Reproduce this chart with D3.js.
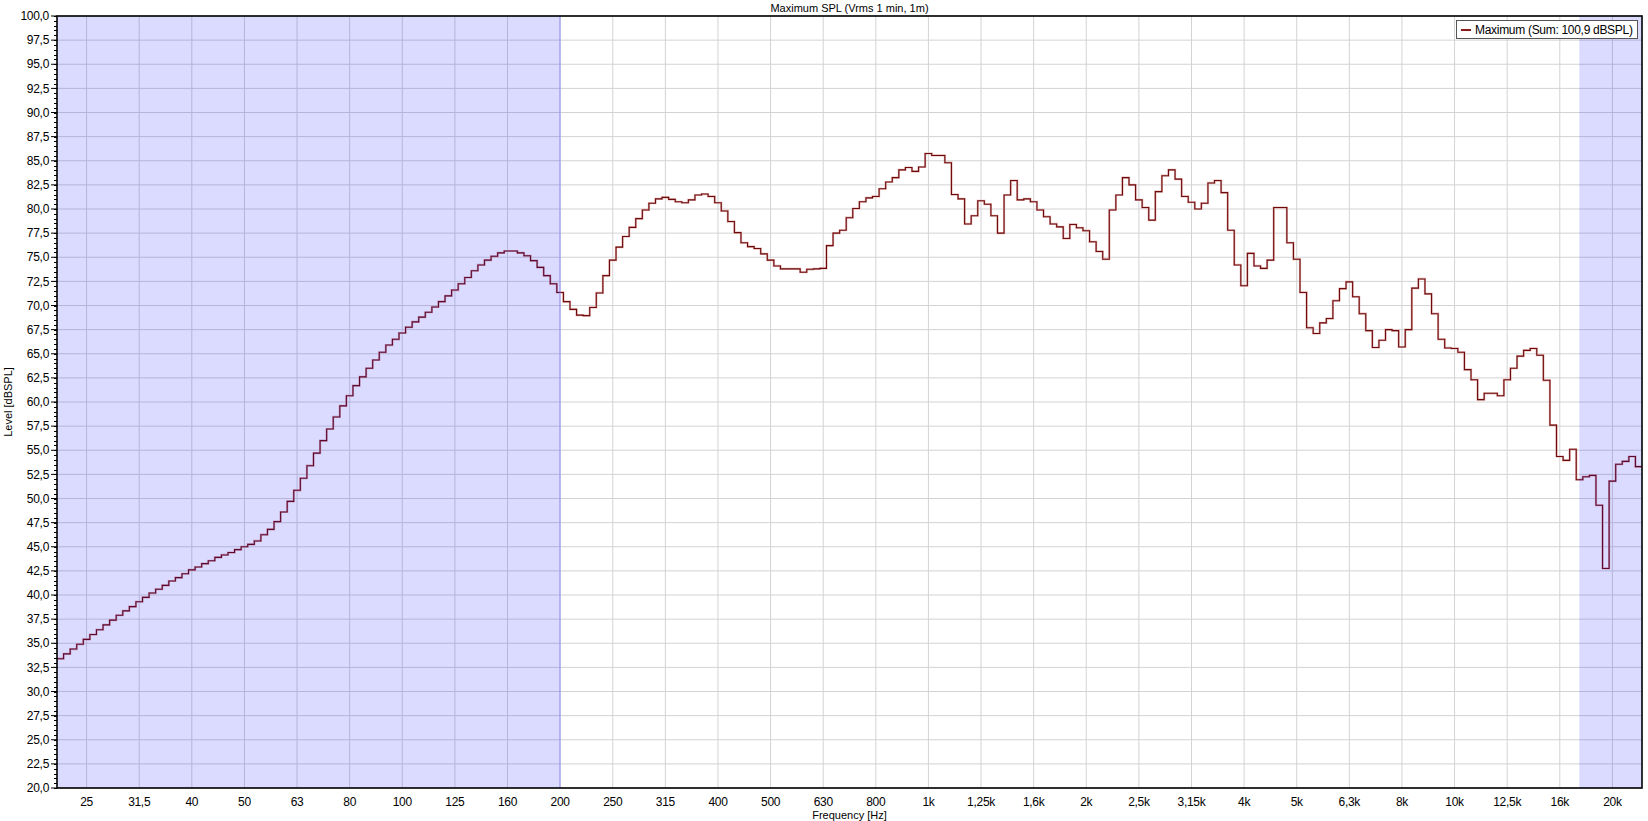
<!DOCTYPE html>
<html><head><meta charset="utf-8">
<script src="https://cdn.jsdelivr.net/npm/d3@7"></script>
<style>
body{margin:0;background:#fff;}
svg{display:block;font-family:"Liberation Sans",Arial,sans-serif;}
</style>
</head><body>
<svg id="chart" width="1648" height="821"></svg>
<script>
// 1/24-octave band levels (dBSPL), first band centred at 22.1 Hz, band 132 = 1 kHz
const levels = [
33.4,33.9,34.4,34.9,35.4,35.9,36.4,36.9,37.4,37.9,
38.35,38.8,39.3,39.75,40.2,40.6,41.0,41.45,41.8,42.2,
42.6,42.9,43.25,43.55,43.9,44.15,44.4,44.7,45.0,45.25,
45.6,46.25,46.8,47.6,48.6,49.7,50.85,52.1,53.4,54.7,
56.0,57.2,58.45,59.6,60.65,61.7,62.6,63.5,64.35,65.15,
65.9,66.5,67.15,67.75,68.3,68.8,69.3,69.85,70.4,71.0,
71.6,72.25,72.9,73.6,74.2,74.7,75.1,75.45,75.65,75.65,
75.45,75.15,74.65,73.95,73.1,72.25,71.35,70.4,69.6,69.0,
68.95,69.8,71.3,73.1,74.7,76.05,77.15,78.1,79.0,79.9,
80.6,81.05,81.2,81.0,80.75,80.65,80.95,81.45,81.55,81.3,
80.65,79.8,78.7,77.55,76.5,76.1,75.9,75.35,74.7,74.1,
73.8,73.8,73.8,73.45,73.75,73.8,73.85,76.2,77.5,77.8,
79.1,80.05,80.75,81.15,81.3,82.1,82.8,83.25,84.05,84.3,
83.9,84.35,85.75,85.55,85.55,84.8,81.5,81.05,78.45,79.3,
80.85,80.5,79.3,77.5,81.45,82.95,80.95,81.05,80.75,79.9,
79.2,78.45,78.15,76.95,78.4,78.05,77.75,76.6,75.6,74.8,
79.9,81.45,83.25,82.5,80.95,80.15,78.85,81.8,83.45,84.05,
83.1,81.3,80.7,80.0,80.6,82.7,82.95,81.7,77.8,74.2,
72.05,75.4,74.1,73.85,74.7,80.15,80.15,76.5,74.8,71.35,
67.7,67.1,68.2,68.65,70.5,71.75,72.45,70.9,69.15,67.4,
65.65,66.4,67.5,67.4,65.7,67.5,71.8,72.75,71.2,69.15,
66.5,65.6,65.55,65.15,63.35,62.3,60.25,60.9,60.9,60.65,
62.3,63.5,64.75,65.35,65.55,64.85,62.25,57.6,54.35,53.95,
55.1,51.95,52.25,52.4,49.3,42.75,51.8,53.55,53.85,54.35,
53.3
];
const bandsPerOctave = 24;
const refBandIndex = 132;   // 1 kHz band
const refFreq = 1000;

const xTickFreqs = [24.8,31.25,39.37,49.61,62.5,78.75,99.21,125,157.5,198.4,250,315,396.9,500,630,793.7,1000,1259.9,1587.4,2000,2519.8,3174.8,4000,5039.7,6349.6,8000,10079,12699,16000,20159];
const xTickLabels = ["25","31,5","40","50","63","80","100","125","160","200","250","315","400","500","630","800","1k","1,25k","1,6k","2k","2,5k","3,15k","4k","5k","6,3k","8k","10k","12,5k","16k","20k"];
const yMajorTicks = [20,22.5,25,27.5,30,32.5,35,37.5,40,42.5,45,47.5,50,52.5,55,57.5,60,62.5,65,67.5,70,72.5,75,77.5,80,82.5,85,87.5,90,92.5,95,97.5,100];
const shadeUpperStart = 17430; // Hz, start of upper shaded range
const shadeLowerEnd = 198.4;   // Hz, end of lower shaded range

const title = "Maximum SPL (Vrms 1 min, 1m)";
const xTitle = "Frequency [Hz]";
const yTitle = "Level [dBSPL]";
const legendText = "Maximum (Sum: 100,9 dBSPL)";

// geometry
const L = 57, R = 1642, T = 16, B = 788;

const half = Math.pow(2, 1 / (2 * bandsPerOctave));
const centers = levels.map((v, i) => refFreq * Math.pow(2, (i - refBandIndex) / bandsPerOctave));
const fMin = centers[0] / half, fMax = centers[centers.length - 1] * half;

const x = d3.scaleLog().domain([fMin, fMax]).range([L, R]);
const y = d3.scaleLinear().domain([20, 100]).range([B, T]);

const svg = d3.select("#chart");
const fmt = v => d3.format(".1f")(v).replace(".", ",");

// plot background
svg.append("rect").attr("x", L).attr("y", T).attr("width", R - L).attr("height", B - T).attr("fill", "#fff");

// grid
const grid = svg.append("g");
grid.selectAll(".hg").data(yMajorTicks).join("line")
  .attr("x1", L).attr("x2", R).attr("y1", d => y(d)).attr("y2", d => y(d))
  .attr("stroke", "#d3d3d3").attr("stroke-width", 1);
grid.selectAll(".vg").data(xTickFreqs).join("line")
  .attr("x1", d => x(d)).attr("x2", d => x(d)).attr("y1", T).attr("y2", B)
  .attr("stroke", "#d3d3d3").attr("stroke-width", 1);

// step line
const pts = levels.map((v, i) => [centers[i] / half, v]);
pts.push([centers[centers.length - 1] * half, levels[levels.length - 1]]);
const line = d3.line().x(d => x(d[0])).y(d => y(d[1])).curve(d3.curveStepAfter);
svg.append("path").datum(pts).attr("d", line)
  .attr("fill", "none").attr("stroke", "#e2b4b4").attr("stroke-width", 2.2).attr("stroke-linejoin", "miter");
svg.append("path").datum(pts).attr("d", line)
  .attr("fill", "none").attr("stroke", "#6e0a0a").attr("stroke-width", 1.1).attr("stroke-linejoin", "miter");

// shaded ranges (drawn over grid and line)
const shades = [[fMin, shadeLowerEnd], [shadeUpperStart, fMax]];
svg.selectAll(".shade").data(shades).join("rect")
  .attr("x", d => x(d[0])).attr("y", T)
  .attr("width", d => x(d[1]) - x(d[0])).attr("height", B - T)
  .attr("fill", "rgb(0,0,255)").attr("fill-opacity", 0.14);
svg.append("line").attr("x1", x(shadeLowerEnd)).attr("x2", x(shadeLowerEnd)).attr("y1", T).attr("y2", B)
  .attr("stroke", "rgb(120,120,255)").attr("stroke-opacity", 0.45).attr("stroke-width", 1.5);

// border
svg.append("rect").attr("x", L).attr("y", T).attr("width", R - L).attr("height", B - T)
  .attr("fill", "none").attr("stroke", "#000").attr("stroke-width", 1.6);

// y axis ticks
const yMinor = d3.range(20, 100.001, 0.5);
svg.selectAll(".ymin").data(yMinor).join("line")
  .attr("x1", L - 3).attr("x2", L).attr("y1", d => Math.round(y(d)) + 0.5).attr("y2", d => Math.round(y(d)) + 0.5)
  .attr("stroke", "#000").attr("stroke-width", 1);
svg.selectAll(".ymaj").data(yMajorTicks).join("line")
  .attr("x1", L - 6).attr("x2", L).attr("y1", d => y(d)).attr("y2", d => y(d))
  .attr("stroke", "#000").attr("stroke-width", 1);
svg.selectAll(".ylab").data(yMajorTicks).join("text")
  .attr("x", L - 8).attr("y", d => y(d)).attr("dy", "0.35em")
  .attr("text-anchor", "end").attr("font-size", 12).attr("fill", "#000")
  .attr("letter-spacing", "-0.3").text(d => fmt(d));

// x labels
svg.selectAll(".xlab").data(xTickFreqs).join("text")
  .attr("x", (d) => x(d)).attr("y", 806)
  .attr("text-anchor", "middle").attr("font-size", 12).attr("fill", "#000")
  .attr("letter-spacing", "-0.3").text((d, i) => xTickLabels[i]);

// titles
svg.append("text").attr("x", (L + R) / 2).attr("y", 12).attr("text-anchor", "middle")
  .attr("font-size", 11).attr("fill", "#000").text(title);
svg.append("text").attr("x", (L + R) / 2).attr("y", 819).attr("text-anchor", "middle")
  .attr("font-size", 11).attr("fill", "#000").text(xTitle);
svg.append("text").attr("transform", `translate(12,${(T + B) / 2}) rotate(-90)`).attr("text-anchor", "middle")
  .attr("font-size", 11).attr("fill", "#000").text(yTitle);

// legend
const lg = svg.append("g").attr("transform", "translate(1456,20)");
lg.append("rect").attr("x", 0.5).attr("y", 0.5).attr("width", 181).attr("height", 18)
  .attr("fill", "#fff").attr("stroke", "#555").attr("stroke-width", 1);
lg.append("line").attr("x1", 5).attr("x2", 15).attr("y1", 10).attr("y2", 10)
  .attr("stroke", "#8b1a1a").attr("stroke-width", 2);
lg.append("text").attr("x", 19).attr("y", 10).attr("dy", "0.35em")
  .attr("font-size", 12).attr("fill", "#000").attr("letter-spacing", "-0.3").text(legendText);
</script>
</body></html>
